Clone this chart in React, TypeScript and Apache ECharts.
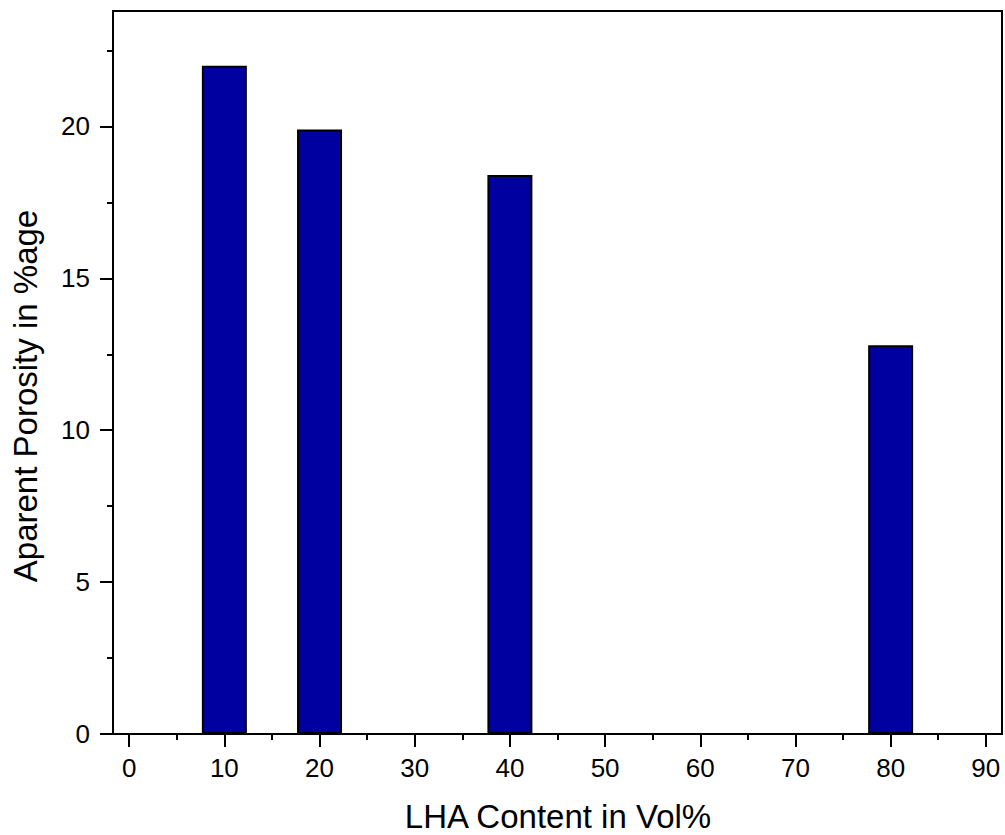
import React, { useEffect, useRef } from "react";
import * as echarts from "echarts";

// LHA content (vol%) and measured apparent porosity (%)
const lhaContent = [10, 20, 40, 80];
const porosity = [22.0, 19.9, 18.4, 12.8];

// Axis ticks
const xMajorTicks = [0, 10, 20, 30, 40, 50, 60, 70, 80, 90];
const xMinorTicks = [5, 15, 25, 35, 45, 55, 65, 75, 85];
const yMajorTicks = [0, 5, 10, 15, 20];
const yMinorTicks = [2.5, 7.5, 12.5, 17.5, 22.5];

const xTitle = "LHA Content in Vol%";
const yTitle = "Aparent Porosity in %age";

const FONT = 'Arial, "Liberation Sans", sans-serif';
const BLACK = "#000";

export default function App() {
  const ref = useRef<HTMLDivElement>(null);

  useEffect(() => {
    if (!ref.current) return;
    const chart = echarts.init(ref.current, undefined, { renderer: "svg" });

    const xRange = { min: -1.7, max: 91.7 };
    const yRange = { min: 0, max: 23.8 };
    const line = { color: BLACK, width: 2 };

    chart.setOption({
      animation: false,
      backgroundColor: "#fff",
      grid: {
        left: 113,
        top: 11,
        right: 3,
        bottom: 101,
        show: true,
        borderColor: BLACK,
        borderWidth: 2,
        backgroundColor: "transparent",
      },
      xAxis: [
        {
          type: "value",
          ...xRange,
          position: "bottom",
          axisLine: { show: true, onZero: false, lineStyle: line },
          axisTick: { show: true, length: 13, customValues: xMajorTicks, lineStyle: line },
          axisLabel: {
            customValues: xMajorTicks,
            margin: 21,
            color: BLACK,
            fontSize: 26,
            fontFamily: FONT,
          },
          splitLine: { show: false },
        },
        {
          type: "value",
          ...xRange,
          position: "bottom",
          axisLine: { show: false, onZero: false },
          axisTick: { show: true, length: 6, customValues: xMinorTicks, lineStyle: line },
          axisLabel: { show: false },
          splitLine: { show: false },
        },
      ],
      yAxis: [
        {
          type: "value",
          ...yRange,
          position: "left",
          axisLine: { show: true, onZero: false, lineStyle: line },
          axisTick: { show: true, length: 13, customValues: yMajorTicks, lineStyle: line },
          axisLabel: {
            customValues: yMajorTicks,
            margin: 23,
            color: BLACK,
            fontSize: 26,
            fontFamily: FONT,
          },
          splitLine: { show: false },
        },
        {
          type: "value",
          ...yRange,
          position: "left",
          axisLine: { show: false, onZero: false },
          axisTick: { show: true, length: 6, customValues: yMinorTicks, lineStyle: line },
          axisLabel: { show: false },
          splitLine: { show: false },
        },
      ],
      series: [
        {
          type: "bar",
          xAxisIndex: 0,
          yAxisIndex: 0,
          barWidth: 45,
          data: lhaContent.map((x, i) => [x, porosity[i]]),
          itemStyle: { color: "#0000A0", borderColor: BLACK, borderWidth: 2 },
        },
      ],
      graphic: [
        {
          type: "text",
          x: 558,
          y: 816,
          style: {
            text: xTitle,
            fill: BLACK,
            fontSize: 33,
            fontFamily: FONT,
            align: "center",
            verticalAlign: "middle",
            textAlign: "center",
            textVerticalAlign: "middle",
          },
        },
        {
          type: "text",
          x: 25,
          y: 396,
          rotation: Math.PI / 2,
          style: {
            text: yTitle,
            fill: BLACK,
            fontSize: 33,
            fontFamily: FONT,
            align: "center",
            verticalAlign: "middle",
            textAlign: "center",
            textVerticalAlign: "middle",
          },
        },
      ],
    });

    return () => chart.dispose();
  }, []);

  return (
    <div
      ref={ref}
      style={{ position: "absolute", left: 0, top: 0, width: 1005, height: 835 }}
    />
  );
}
